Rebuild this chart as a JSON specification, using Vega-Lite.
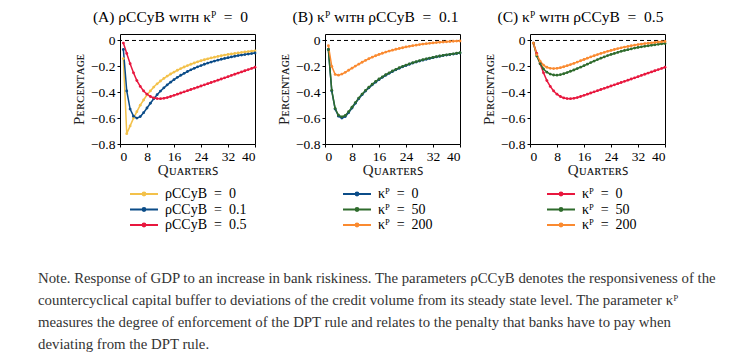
{
"$schema": "https://vega.github.io/schema/vega-lite/v6.json",
"background": "white",
"padding": {"left": 38, "top": 9, "right": 5, "bottom": 2},
"config": {
  "view": {"stroke": "black", "strokeWidth": 1},
  "font": "Liberation Serif",
  "axis": {"grid": false, "domain": false, "tickColor": "black", "tickSize": 3, "labelFont": "Liberation Serif", "labelFontSize": 13.5, "labelColor": "black", "labelOverlap": false, "titleFont": "Liberation Serif", "titleFontSize": 15, "titleFontWeight": "normal", "titleColor": "#222222"},
  "legend": {"labelFont": "Liberation Serif", "labelFontSize": 14, "labelColor": "black", "symbolType": "M-3,0H3M0.3,0A0.3,0.3,0,1,1,-0.3,0A0.3,0.3,0,1,1,0.3,0Z", "symbolSize": 87, "symbolStrokeWidth": 2, "labelOffset": 14, "rowPadding": 1.5, "title": null},
  "title": {"font": "Liberation Serif", "fontSize": 15.5, "fontWeight": "normal", "color": "black", "offset": 8, "dx": -17}
},
"title": {"text": ["Note. Response of GDP to an increase in bank riskiness. The parameters ρCCyB denotes the responsiveness of the", "countercyclical capital buffer to deviations of the credit volume from its steady state level. The parameter κᴾ", "measures the degree of enforcement of the DPT rule and relates to the penalty that banks have to pay when", "deviating from the DPT rule."], "orient": "bottom", "anchor": "start", "font": "Liberation Serif", "fontSize": 14.8, "fontWeight": "normal", "color": "#333333", "lineHeight": 22, "offset": 38, "dx": -33},
"datasets": {
"A": [
{"s":"0","q":1,"v":-0.14},{"s":"0","q":2,"v":-0.72},{"s":"0","q":3,"v":-0.66},{"s":"0","q":4,"v":-0.6},{"s":"0","q":5,"v":-0.55},{"s":"0","q":6,"v":-0.5},{"s":"0","q":7,"v":-0.46},{"s":"0","q":8,"v":-0.42},{"s":"0","q":9,"v":-0.39},{"s":"0","q":10,"v":-0.36},
{"s":"0","q":11,"v":-0.335},{"s":"0","q":12,"v":-0.313},{"s":"0","q":13,"v":-0.293},{"s":"0","q":14,"v":-0.275},{"s":"0","q":15,"v":-0.259},{"s":"0","q":16,"v":-0.244},{"s":"0","q":17,"v":-0.23},{"s":"0","q":18,"v":-0.217},{"s":"0","q":19,"v":-0.205},{"s":"0","q":20,"v":-0.194},
{"s":"0","q":21,"v":-0.184},{"s":"0","q":22,"v":-0.174},{"s":"0","q":23,"v":-0.165},{"s":"0","q":24,"v":-0.157},{"s":"0","q":25,"v":-0.149},{"s":"0","q":26,"v":-0.142},{"s":"0","q":27,"v":-0.135},{"s":"0","q":28,"v":-0.129},{"s":"0","q":29,"v":-0.123},{"s":"0","q":30,"v":-0.118},
{"s":"0","q":31,"v":-0.113},{"s":"0","q":32,"v":-0.108},{"s":"0","q":33,"v":-0.104},{"s":"0","q":34,"v":-0.1},{"s":"0","q":35,"v":-0.096},{"s":"0","q":36,"v":-0.092},{"s":"0","q":37,"v":-0.089},{"s":"0","q":38,"v":-0.086},{"s":"0","q":39,"v":-0.083},{"s":"0","q":40,"v":-0.08},
{"s":"0.1","q":1,"v":-0.07},{"s":"0.1","q":2,"v":-0.39},{"s":"0.1","q":3,"v":-0.53},{"s":"0.1","q":4,"v":-0.585},{"s":"0.1","q":5,"v":-0.6},{"s":"0.1","q":6,"v":-0.588},{"s":"0.1","q":7,"v":-0.558},{"s":"0.1","q":8,"v":-0.522},{"s":"0.1","q":9,"v":-0.485},{"s":"0.1","q":10,"v":-0.45},
{"s":"0.1","q":11,"v":-0.419},{"s":"0.1","q":12,"v":-0.391},{"s":"0.1","q":13,"v":-0.366},{"s":"0.1","q":14,"v":-0.343},{"s":"0.1","q":15,"v":-0.322},{"s":"0.1","q":16,"v":-0.303},{"s":"0.1","q":17,"v":-0.285},{"s":"0.1","q":18,"v":-0.269},{"s":"0.1","q":19,"v":-0.254},{"s":"0.1","q":20,"v":-0.24},
{"s":"0.1","q":21,"v":-0.227},{"s":"0.1","q":22,"v":-0.215},{"s":"0.1","q":23,"v":-0.204},{"s":"0.1","q":24,"v":-0.194},{"s":"0.1","q":25,"v":-0.184},{"s":"0.1","q":26,"v":-0.175},{"s":"0.1","q":27,"v":-0.167},{"s":"0.1","q":28,"v":-0.159},{"s":"0.1","q":29,"v":-0.152},{"s":"0.1","q":30,"v":-0.145},
{"s":"0.1","q":31,"v":-0.139},{"s":"0.1","q":32,"v":-0.133},{"s":"0.1","q":33,"v":-0.127},{"s":"0.1","q":34,"v":-0.122},{"s":"0.1","q":35,"v":-0.117},{"s":"0.1","q":36,"v":-0.113},{"s":"0.1","q":37,"v":-0.109},{"s":"0.1","q":38,"v":-0.105},{"s":"0.1","q":39,"v":-0.101},{"s":"0.1","q":40,"v":-0.097},
{"s":"0.5","q":1,"v":-0.02},{"s":"0.5","q":2,"v":-0.1},{"s":"0.5","q":3,"v":-0.18},{"s":"0.5","q":4,"v":-0.25},{"s":"0.5","q":5,"v":-0.31},{"s":"0.5","q":6,"v":-0.355},{"s":"0.5","q":7,"v":-0.39},{"s":"0.5","q":8,"v":-0.415},{"s":"0.5","q":9,"v":-0.433},{"s":"0.5","q":10,"v":-0.444},
{"s":"0.5","q":11,"v":-0.449},{"s":"0.5","q":12,"v":-0.45},{"s":"0.5","q":13,"v":-0.447},{"s":"0.5","q":14,"v":-0.441},{"s":"0.5","q":15,"v":-0.433},{"s":"0.5","q":16,"v":-0.424},{"s":"0.5","q":17,"v":-0.415},{"s":"0.5","q":18,"v":-0.406},{"s":"0.5","q":19,"v":-0.397},{"s":"0.5","q":20,"v":-0.388},
{"s":"0.5","q":21,"v":-0.379},{"s":"0.5","q":22,"v":-0.37},{"s":"0.5","q":23,"v":-0.361},{"s":"0.5","q":24,"v":-0.352},{"s":"0.5","q":25,"v":-0.343},{"s":"0.5","q":26,"v":-0.334},{"s":"0.5","q":27,"v":-0.325},{"s":"0.5","q":28,"v":-0.316},{"s":"0.5","q":29,"v":-0.307},{"s":"0.5","q":30,"v":-0.298},
{"s":"0.5","q":31,"v":-0.289},{"s":"0.5","q":32,"v":-0.28},{"s":"0.5","q":33,"v":-0.27},{"s":"0.5","q":34,"v":-0.261},{"s":"0.5","q":35,"v":-0.252},{"s":"0.5","q":36,"v":-0.243},{"s":"0.5","q":37,"v":-0.234},{"s":"0.5","q":38,"v":-0.225},{"s":"0.5","q":39,"v":-0.216},{"s":"0.5","q":40,"v":-0.207}
],
"B": [
{"s":"0","q":1,"v":-0.07},{"s":"0","q":2,"v":-0.39},{"s":"0","q":3,"v":-0.53},{"s":"0","q":4,"v":-0.585},{"s":"0","q":5,"v":-0.6},{"s":"0","q":6,"v":-0.588},{"s":"0","q":7,"v":-0.558},{"s":"0","q":8,"v":-0.522},{"s":"0","q":9,"v":-0.485},{"s":"0","q":10,"v":-0.45},
{"s":"0","q":11,"v":-0.419},{"s":"0","q":12,"v":-0.391},{"s":"0","q":13,"v":-0.366},{"s":"0","q":14,"v":-0.343},{"s":"0","q":15,"v":-0.322},{"s":"0","q":16,"v":-0.303},{"s":"0","q":17,"v":-0.285},{"s":"0","q":18,"v":-0.269},{"s":"0","q":19,"v":-0.254},{"s":"0","q":20,"v":-0.24},
{"s":"0","q":21,"v":-0.227},{"s":"0","q":22,"v":-0.215},{"s":"0","q":23,"v":-0.204},{"s":"0","q":24,"v":-0.194},{"s":"0","q":25,"v":-0.184},{"s":"0","q":26,"v":-0.175},{"s":"0","q":27,"v":-0.167},{"s":"0","q":28,"v":-0.159},{"s":"0","q":29,"v":-0.152},{"s":"0","q":30,"v":-0.145},
{"s":"0","q":31,"v":-0.139},{"s":"0","q":32,"v":-0.133},{"s":"0","q":33,"v":-0.127},{"s":"0","q":34,"v":-0.122},{"s":"0","q":35,"v":-0.117},{"s":"0","q":36,"v":-0.113},{"s":"0","q":37,"v":-0.109},{"s":"0","q":38,"v":-0.105},{"s":"0","q":39,"v":-0.101},{"s":"0","q":40,"v":-0.097},
{"s":"50","q":1,"v":-0.07},{"s":"50","q":2,"v":-0.385},{"s":"50","q":3,"v":-0.525},{"s":"50","q":4,"v":-0.578},{"s":"50","q":5,"v":-0.59},{"s":"50","q":6,"v":-0.58},{"s":"50","q":7,"v":-0.551},{"s":"50","q":8,"v":-0.516},{"s":"50","q":9,"v":-0.48},{"s":"50","q":10,"v":-0.445},
{"s":"50","q":11,"v":-0.414},{"s":"50","q":12,"v":-0.386},{"s":"50","q":13,"v":-0.361},{"s":"50","q":14,"v":-0.338},{"s":"50","q":15,"v":-0.317},{"s":"50","q":16,"v":-0.298},{"s":"50","q":17,"v":-0.281},{"s":"50","q":18,"v":-0.265},{"s":"50","q":19,"v":-0.25},{"s":"50","q":20,"v":-0.236},
{"s":"50","q":21,"v":-0.223},{"s":"50","q":22,"v":-0.211},{"s":"50","q":23,"v":-0.2},{"s":"50","q":24,"v":-0.19},{"s":"50","q":25,"v":-0.181},{"s":"50","q":26,"v":-0.172},{"s":"50","q":27,"v":-0.164},{"s":"50","q":28,"v":-0.156},{"s":"50","q":29,"v":-0.149},{"s":"50","q":30,"v":-0.142},
{"s":"50","q":31,"v":-0.136},{"s":"50","q":32,"v":-0.13},{"s":"50","q":33,"v":-0.125},{"s":"50","q":34,"v":-0.12},{"s":"50","q":35,"v":-0.115},{"s":"50","q":36,"v":-0.111},{"s":"50","q":37,"v":-0.107},{"s":"50","q":38,"v":-0.103},{"s":"50","q":39,"v":-0.099},{"s":"50","q":40,"v":-0.095},
{"s":"200","q":1,"v":-0.04},{"s":"200","q":2,"v":-0.2},{"s":"200","q":3,"v":-0.262},{"s":"200","q":4,"v":-0.268},{"s":"200","q":5,"v":-0.26},{"s":"200","q":6,"v":-0.246},{"s":"200","q":7,"v":-0.23},{"s":"200","q":8,"v":-0.214},{"s":"200","q":9,"v":-0.198},{"s":"200","q":10,"v":-0.183},
{"s":"200","q":11,"v":-0.168},{"s":"200","q":12,"v":-0.154},{"s":"200","q":13,"v":-0.141},{"s":"200","q":14,"v":-0.129},{"s":"200","q":15,"v":-0.118},{"s":"200","q":16,"v":-0.108},{"s":"200","q":17,"v":-0.099},{"s":"200","q":18,"v":-0.09},{"s":"200","q":19,"v":-0.082},{"s":"200","q":20,"v":-0.075},
{"s":"200","q":21,"v":-0.068},{"s":"200","q":22,"v":-0.062},{"s":"200","q":23,"v":-0.056},{"s":"200","q":24,"v":-0.05},{"s":"200","q":25,"v":-0.045},{"s":"200","q":26,"v":-0.04},{"s":"200","q":27,"v":-0.036},{"s":"200","q":28,"v":-0.032},{"s":"200","q":29,"v":-0.028},{"s":"200","q":30,"v":-0.025},
{"s":"200","q":31,"v":-0.022},{"s":"200","q":32,"v":-0.019},{"s":"200","q":33,"v":-0.016},{"s":"200","q":34,"v":-0.014},{"s":"200","q":35,"v":-0.012},{"s":"200","q":36,"v":-0.01},{"s":"200","q":37,"v":-0.008},{"s":"200","q":38,"v":-0.006},{"s":"200","q":39,"v":-0.005},{"s":"200","q":40,"v":-0.004}
],
"C": [
{"s":"0","q":1,"v":-0.02},{"s":"0","q":2,"v":-0.1},{"s":"0","q":3,"v":-0.18},{"s":"0","q":4,"v":-0.25},{"s":"0","q":5,"v":-0.31},{"s":"0","q":6,"v":-0.355},{"s":"0","q":7,"v":-0.39},{"s":"0","q":8,"v":-0.415},{"s":"0","q":9,"v":-0.433},{"s":"0","q":10,"v":-0.444},
{"s":"0","q":11,"v":-0.449},{"s":"0","q":12,"v":-0.45},{"s":"0","q":13,"v":-0.447},{"s":"0","q":14,"v":-0.441},{"s":"0","q":15,"v":-0.433},{"s":"0","q":16,"v":-0.424},{"s":"0","q":17,"v":-0.415},{"s":"0","q":18,"v":-0.406},{"s":"0","q":19,"v":-0.397},{"s":"0","q":20,"v":-0.388},
{"s":"0","q":21,"v":-0.379},{"s":"0","q":22,"v":-0.37},{"s":"0","q":23,"v":-0.361},{"s":"0","q":24,"v":-0.352},{"s":"0","q":25,"v":-0.343},{"s":"0","q":26,"v":-0.334},{"s":"0","q":27,"v":-0.325},{"s":"0","q":28,"v":-0.316},{"s":"0","q":29,"v":-0.307},{"s":"0","q":30,"v":-0.298},
{"s":"0","q":31,"v":-0.289},{"s":"0","q":32,"v":-0.28},{"s":"0","q":33,"v":-0.27},{"s":"0","q":34,"v":-0.261},{"s":"0","q":35,"v":-0.252},{"s":"0","q":36,"v":-0.243},{"s":"0","q":37,"v":-0.234},{"s":"0","q":38,"v":-0.225},{"s":"0","q":39,"v":-0.216},{"s":"0","q":40,"v":-0.207},
{"s":"50","q":1,"v":-0.02},{"s":"50","q":2,"v":-0.12},{"s":"50","q":3,"v":-0.18},{"s":"50","q":4,"v":-0.22},{"s":"50","q":5,"v":-0.245},{"s":"50","q":6,"v":-0.26},{"s":"50","q":7,"v":-0.267},{"s":"50","q":8,"v":-0.268},{"s":"50","q":9,"v":-0.264},{"s":"50","q":10,"v":-0.257},
{"s":"50","q":11,"v":-0.248},{"s":"50","q":12,"v":-0.238},{"s":"50","q":13,"v":-0.228},{"s":"50","q":14,"v":-0.217},{"s":"50","q":15,"v":-0.206},{"s":"50","q":16,"v":-0.195},{"s":"50","q":17,"v":-0.183},{"s":"50","q":18,"v":-0.171},{"s":"50","q":19,"v":-0.159},{"s":"50","q":20,"v":-0.148},
{"s":"50","q":21,"v":-0.137},{"s":"50","q":22,"v":-0.127},{"s":"50","q":23,"v":-0.117},{"s":"50","q":24,"v":-0.108},{"s":"50","q":25,"v":-0.1},{"s":"50","q":26,"v":-0.092},{"s":"50","q":27,"v":-0.084},{"s":"50","q":28,"v":-0.077},{"s":"50","q":29,"v":-0.071},{"s":"50","q":30,"v":-0.065},
{"s":"50","q":31,"v":-0.059},{"s":"50","q":32,"v":-0.054},{"s":"50","q":33,"v":-0.049},{"s":"50","q":34,"v":-0.045},{"s":"50","q":35,"v":-0.041},{"s":"50","q":36,"v":-0.037},{"s":"50","q":37,"v":-0.033},{"s":"50","q":38,"v":-0.03},{"s":"50","q":39,"v":-0.026},{"s":"50","q":40,"v":-0.023},
{"s":"200","q":1,"v":-0.02},{"s":"200","q":2,"v":-0.11},{"s":"200","q":3,"v":-0.16},{"s":"200","q":4,"v":-0.19},{"s":"200","q":5,"v":-0.207},{"s":"200","q":6,"v":-0.215},{"s":"200","q":7,"v":-0.217},{"s":"200","q":8,"v":-0.215},{"s":"200","q":9,"v":-0.21},{"s":"200","q":10,"v":-0.203},
{"s":"200","q":11,"v":-0.195},{"s":"200","q":12,"v":-0.186},{"s":"200","q":13,"v":-0.177},{"s":"200","q":14,"v":-0.167},{"s":"200","q":15,"v":-0.157},{"s":"200","q":16,"v":-0.147},{"s":"200","q":17,"v":-0.137},{"s":"200","q":18,"v":-0.127},{"s":"200","q":19,"v":-0.118},{"s":"200","q":20,"v":-0.109},
{"s":"200","q":21,"v":-0.1},{"s":"200","q":22,"v":-0.092},{"s":"200","q":23,"v":-0.084},{"s":"200","q":24,"v":-0.077},{"s":"200","q":25,"v":-0.07},{"s":"200","q":26,"v":-0.063},{"s":"200","q":27,"v":-0.057},{"s":"200","q":28,"v":-0.051},{"s":"200","q":29,"v":-0.046},{"s":"200","q":30,"v":-0.041},
{"s":"200","q":31,"v":-0.036},{"s":"200","q":32,"v":-0.032},{"s":"200","q":33,"v":-0.028},{"s":"200","q":34,"v":-0.024},{"s":"200","q":35,"v":-0.021},{"s":"200","q":36,"v":-0.018},{"s":"200","q":37,"v":-0.015},{"s":"200","q":38,"v":-0.012},{"s":"200","q":39,"v":-0.01},{"s":"200","q":40,"v":-0.008}
]
},
"bounds": "flush",
"spacing": 70,
"hconcat": [
{
  "width": 135, "height": 110,
  "title": {"text": "(A) ρCCyB ᴡɪᴛʜ κᴾ\u2002=\u20020"},
  "layer": [
    {"data": {"values": [{"z": 0}]}, "mark": {"type": "rule", "color": "black", "strokeWidth": 1, "strokeDash": [4, 3]}, "encoding": {"y": {"field": "z", "type": "quantitative"}}},
    {"data": {"name": "A"}, "mark": {"type": "line", "strokeWidth": 1.5, "point": {"size": 8, "filled": true}},
     "encoding": {
      "x": {"field": "q", "type": "quantitative", "scale": {"domain": [0, 40], "nice": false}, "axis": {"values": [0, 8, 16, 24, 32, 40], "title": "Qᴜᴀʀᴛᴇʀꜱ", "titlePadding": 0}},
      "y": {"field": "v", "type": "quantitative", "scale": {"domain": [-0.8, 0.05], "nice": false, "zero": false}, "axis": {"values": [-0.8, -0.6, -0.4, -0.2, 0], "tickCount": 5, "labelOverlap": false, "labelExpr": "datum.value == 0 ? '0' : format(datum.value, '.1f')", "title": "Pᴇʀᴄᴇɴᴛᴀɢᴇ"}},
      "color": {"field": "s", "type": "nominal", "scale": {"domain": ["0", "0.1", "0.5"], "range": ["#F3C14A", "#0B4C88", "#E8173E"]}, "legend": {"orient": "none", "legendX": 17, "legendY": 153, "labelExpr": "'ρCCyB\u2002=\u2002' + datum.label"}}
     }}
  ]
},
{
  "width": 135, "height": 110,
  "title": {"text": "(B) κᴾ ᴡɪᴛʜ ρCCyB\u2002=\u20020.1"},
  "layer": [
    {"data": {"values": [{"z": 0}]}, "mark": {"type": "rule", "color": "black", "strokeWidth": 1, "strokeDash": [4, 3]}, "encoding": {"y": {"field": "z", "type": "quantitative"}}},
    {"data": {"name": "B"}, "mark": {"type": "line", "strokeWidth": 1.5, "point": {"size": 8, "filled": true}},
     "encoding": {
      "x": {"field": "q", "type": "quantitative", "scale": {"domain": [0, 40], "nice": false}, "axis": {"values": [0, 8, 16, 24, 32, 40], "title": "Qᴜᴀʀᴛᴇʀꜱ", "titlePadding": 0}},
      "y": {"field": "v", "type": "quantitative", "scale": {"domain": [-0.8, 0.05], "nice": false, "zero": false}, "axis": {"values": [-0.8, -0.6, -0.4, -0.2, 0], "tickCount": 5, "labelOverlap": false, "labelExpr": "datum.value == 0 ? '0' : format(datum.value, '.1f')", "title": "Pᴇʀᴄᴇɴᴛᴀɢᴇ"}},
      "color": {"field": "s", "type": "nominal", "scale": {"domain": ["0", "50", "200"], "range": ["#0B4C88", "#2E6B2C", "#FA8A30"]}, "legend": {"orient": "none", "legendX": 25, "legendY": 153, "labelExpr": "'κᴾ\u2002=\u2002' + datum.label"}}
     }}
  ]
},
{
  "width": 135, "height": 110,
  "title": {"text": "(C) κᴾ ᴡɪᴛʜ ρCCyB\u2002=\u20020.5"},
  "layer": [
    {"data": {"values": [{"z": 0}]}, "mark": {"type": "rule", "color": "black", "strokeWidth": 1, "strokeDash": [4, 3]}, "encoding": {"y": {"field": "z", "type": "quantitative"}}},
    {"data": {"name": "C"}, "mark": {"type": "line", "strokeWidth": 1.5, "point": {"size": 8, "filled": true}},
     "encoding": {
      "x": {"field": "q", "type": "quantitative", "scale": {"domain": [0, 40], "nice": false}, "axis": {"values": [0, 8, 16, 24, 32, 40], "title": "Qᴜᴀʀᴛᴇʀꜱ", "titlePadding": 0}},
      "y": {"field": "v", "type": "quantitative", "scale": {"domain": [-0.8, 0.05], "nice": false, "zero": false}, "axis": {"values": [-0.8, -0.6, -0.4, -0.2, 0], "tickCount": 5, "labelOverlap": false, "labelExpr": "datum.value == 0 ? '0' : format(datum.value, '.1f')", "title": "Pᴇʀᴄᴇɴᴛᴀɢᴇ"}},
      "color": {"field": "s", "type": "nominal", "scale": {"domain": ["0", "50", "200"], "range": ["#E8173E", "#2E6B2C", "#FA8A30"]}, "legend": {"orient": "none", "legendX": 24, "legendY": 153, "labelExpr": "'κᴾ\u2002=\u2002' + datum.label"}}
     }}
  ]
}
],
"resolve": {"scale": {"color": "independent"}}
}
